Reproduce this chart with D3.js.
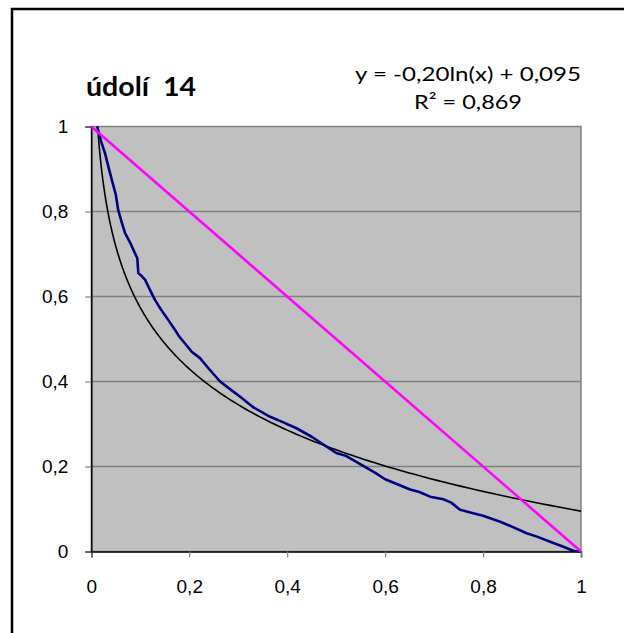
<!DOCTYPE html>
<html>
<head>
<meta charset="utf-8">
<script src="https://cdn.jsdelivr.net/npm/d3@7"></script>
<style>
  html, body { margin: 0; padding: 0; background: #fff; }
  svg { display: block; }
</style>
</head>
<body>
<svg id="chart" width="624" height="633"></svg>
<script>
// ---- data ----
const title = "údolí  14";
const equationText = "y = -0,20ln(x) + 0,095";
const r2Text = "R² = 0,869";
const blueX = [0.012, 0.02, 0.028, 0.035, 0.042, 0.05, 0.055, 0.062, 0.069, 0.08, 0.089, 0.094, 0.096, 0.103, 0.110, 0.12, 0.130, 0.143, 0.157, 0.17, 0.18, 0.191, 0.205, 0.222, 0.24, 0.263, 0.28, 0.304, 0.33, 0.365, 0.39, 0.419, 0.45, 0.48, 0.5, 0.52, 0.55, 0.58, 0.6, 0.63, 0.651, 0.67, 0.692, 0.719, 0.735, 0.753, 0.78, 0.80, 0.835, 0.86, 0.889, 0.91, 0.937, 0.964, 0.975, 0.986, 1.0];
const blueY = [1.0, 0.965, 0.937, 0.905, 0.874, 0.84, 0.803, 0.775, 0.749, 0.725, 0.702, 0.69, 0.655, 0.648, 0.639, 0.615, 0.592, 0.568, 0.545, 0.523, 0.505, 0.49, 0.47, 0.455, 0.43, 0.40, 0.385, 0.364, 0.34, 0.317, 0.305, 0.29, 0.27, 0.247, 0.232, 0.225, 0.205, 0.185, 0.17, 0.156, 0.146, 0.14, 0.129, 0.123, 0.115, 0.098, 0.09, 0.084, 0.07, 0.058, 0.043, 0.035, 0.023, 0.011, 0.006, 0.001, 0.0];
const diagX = [0, 1];
const diagY = [1, 0];
// logarithmic trendline y = a*ln(x) + b
const trendA = -0.208;
const trendB = 0.095;
const xTicks = [0, 0.2, 0.4, 0.6, 0.8, 1];
const yTicks = [0, 0.2, 0.4, 0.6, 0.8, 1];

// ---- layout ----
const L = 91.3, R = 581, T = 126.5, B = 551.5;
const svg = d3.select("#chart");
const x = d3.scaleLinear().domain([0, 1]).range([L, R]);
const y = d3.scaleLinear().domain([0, 1]).range([B, T]);
const fmt = d => d3.format("")(d).replace(".", ",");

// outer chart border
svg.append("rect").attr("x", 12).attr("y", 9).attr("width", 640).attr("height", 660)
  .attr("fill", "#fff").attr("stroke", "#000").attr("stroke-width", 2.5);

// plot area
svg.append("rect").attr("x", L).attr("y", T).attr("width", R - L).attr("height", B - T)
  .attr("fill", "#C0C0C0").attr("stroke", "#808080").attr("stroke-width", 1.5);

// gridlines
svg.append("g").selectAll("line").data(yTicks.filter(d => d > 0 && d < 1)).join("line")
  .attr("x1", L).attr("x2", R).attr("y1", d => y(d)).attr("y2", d => y(d))
  .attr("stroke", "#808080").attr("stroke-width", 1.5);

// axes
const xAxis = d3.axisBottom(x).tickValues(xTicks).tickFormat(fmt).tickSize(6).tickPadding(22);
const gx = svg.append("g").attr("transform", `translate(0,${B})`).call(xAxis);
gx.select(".domain").attr("stroke", "#000").attr("stroke-width", 1.5);
gx.selectAll(".tick line").attr("stroke", "#808080").attr("stroke-width", 1.2);
gx.selectAll("text").attr("font-family", "Liberation Sans, Arial, sans-serif").attr("font-size", 19).attr("fill", "#000");

const yAxis = d3.axisLeft(y).tickValues(yTicks).tickFormat(fmt).tickSize(6).tickPadding(17);
const gy = svg.append("g").attr("transform", `translate(${L},0)`).call(yAxis);
gy.select(".domain").attr("stroke", "#000").attr("stroke-width", 1.5);
gy.selectAll(".tick line").attr("stroke", "#808080").attr("stroke-width", 1.2);
gy.selectAll("text").attr("font-family", "Liberation Sans, Arial, sans-serif").attr("font-size", 19).attr("fill", "#000");

// clip
svg.append("clipPath").attr("id", "clip").append("rect")
  .attr("x", L).attr("y", T - 1).attr("width", R - L).attr("height", B - T + 2);
const plot = svg.append("g").attr("clip-path", "url(#clip)");

// trendline
const tMin = Math.exp((1 - trendB) / trendA);
const trendXs = d3.range(0, 201).map(i => tMin * Math.pow(1 / tMin, i / 200));
const line = d3.line().x(d => x(d[0])).y(d => y(d[1]));
plot.append("path").datum(trendXs.map(v => [v, trendA * Math.log(v) + trendB]))
  .attr("d", line).attr("fill", "none").attr("stroke", "#000").attr("stroke-width", 1.6);

// blue data
plot.append("path").datum(blueX.map((v, i) => [v, blueY[i]]))
  .attr("d", line).attr("fill", "none").attr("stroke", "#000080").attr("stroke-width", 2.6)
  .attr("stroke-linejoin", "round");

// diagonal
plot.append("path").datum(diagX.map((v, i) => [v, diagY[i]]))
  .attr("d", line).attr("fill", "none").attr("stroke", "#FF00FF").attr("stroke-width", 2.6);

// title
svg.append("text").attr("x", 86).attr("y", 96).text(title)
  .attr("font-family", "Lato, sans-serif").attr("font-weight", "bold").attr("font-size", 27)
  .attr("textLength", 110).attr("lengthAdjust", "spacingAndGlyphs").attr("fill", "#000")
  .style("white-space", "pre");

// equation (centered two-line label)
const eqCx = 468;
svg.append("text").attr("x", eqCx - 113).attr("y", 81).text(equationText)
  .attr("font-family", "Lato, sans-serif").attr("font-size", 20)
  .attr("textLength", 226).attr("lengthAdjust", "spacingAndGlyphs").attr("fill", "#000");
svg.append("text").attr("x", eqCx - 54).attr("y", 109).text(r2Text)
  .attr("font-family", "Lato, sans-serif").attr("font-size", 20)
  .attr("textLength", 108).attr("lengthAdjust", "spacingAndGlyphs").attr("fill", "#000");
</script>
</body>
</html>
